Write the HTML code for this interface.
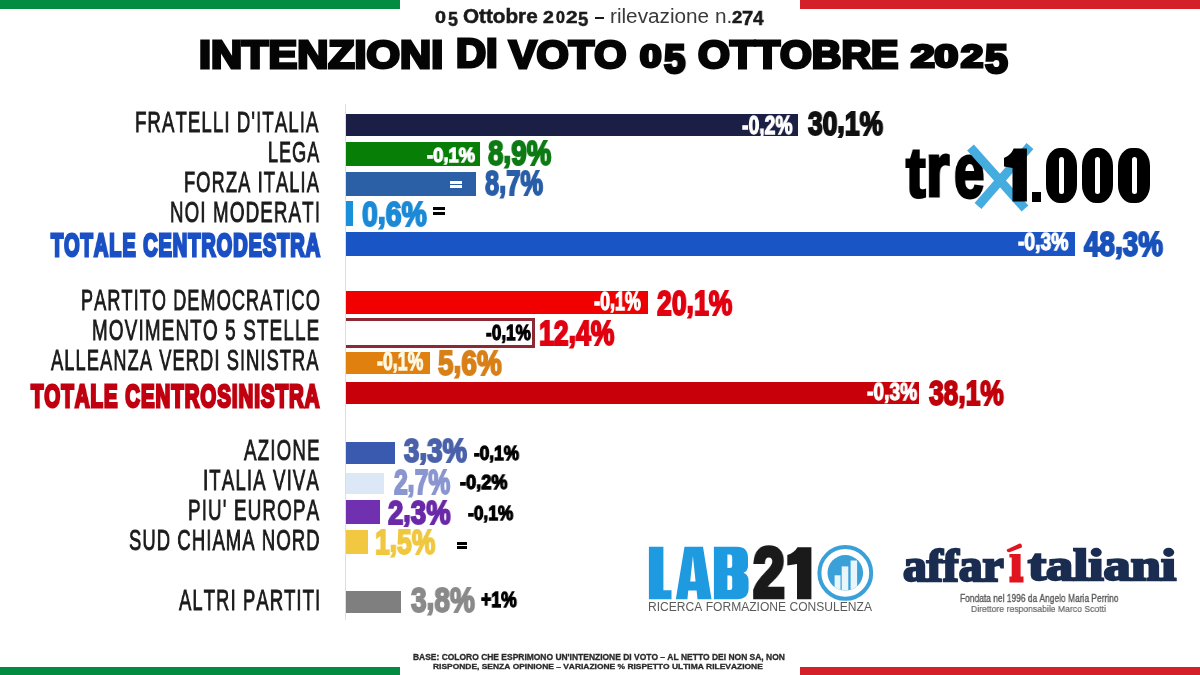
<!DOCTYPE html>
<html><head><meta charset="utf-8"><title>Intenzioni di voto</title>
<style>
html,body{margin:0;padding:0;background:#fff;}
body{width:1200px;height:675px;position:relative;overflow:hidden;font-family:"Liberation Sans",sans-serif;}
.t{position:absolute;white-space:nowrap;line-height:1;font-kerning:none;transform-origin:0 0;will-change:transform;}
.b{position:absolute;}
</style></head><body>
<div class="b" style="left:0px;top:0px;width:400.00px;height:9.00px;background:#048b42;"></div>
<div class="b" style="left:800px;top:0px;width:400.00px;height:9.00px;background:#d42029;"></div>
<div class="b" style="left:0px;top:667px;width:400.00px;height:8.00px;background:#048b42;"></div>
<div class="b" style="left:800px;top:667px;width:400.00px;height:8.00px;background:#d42029;"></div>
<div class="t" style="left:434.72px;top:9.13px;font-family:'Liberation Sans',sans-serif;font-weight:700;font-size:16.33px;color:#1a1a1a;transform:scaleX(1.2100);-webkit-text-stroke:0.5px #1a1a1a;">0</div>
<div class="t" style="left:447.77px;top:8.74px;font-family:'Liberation Sans',sans-serif;font-weight:700;font-size:20.20px;color:#1a1a1a;transform:scaleX(0.8813);-webkit-text-stroke:0.5px #1a1a1a;">5</div>
<div class="t" style="left:462.71px;top:7.04px;font-family:'Liberation Sans',sans-serif;font-weight:700;font-size:19.73px;color:#1a1a1a;transform:scaleX(1.0487);-webkit-text-stroke:0.5px #1a1a1a;">Ottobre</div>
<div class="t" style="left:542.73px;top:9.65px;font-family:'Liberation Sans',sans-serif;font-weight:700;font-size:15.83px;color:#1a1a1a;transform:scaleX(1.2317);-webkit-text-stroke:0.5px #1a1a1a;">2</div>
<div class="t" style="left:555.87px;top:9.65px;font-family:'Liberation Sans',sans-serif;font-weight:700;font-size:15.83px;color:#1a1a1a;transform:scaleX(1.0154);-webkit-text-stroke:0.5px #1a1a1a;">0</div>
<div class="t" style="left:565.86px;top:9.65px;font-family:'Liberation Sans',sans-serif;font-weight:700;font-size:15.83px;color:#1a1a1a;transform:scaleX(1.3117);-webkit-text-stroke:0.5px #1a1a1a;">2</div>
<div class="t" style="left:578.41px;top:8.81px;font-family:'Liberation Sans',sans-serif;font-weight:700;font-size:20.13px;color:#1a1a1a;transform:scaleX(0.9176);-webkit-text-stroke:0.5px #1a1a1a;">5</div>
<div class="t" style="left:731.65px;top:9.66px;font-family:'Liberation Sans',sans-serif;font-weight:700;font-size:15.75px;color:#1a1a1a;transform:scaleX(1.1751);-webkit-text-stroke:0.5px #1a1a1a;">2</div>
<div class="t" style="left:741.64px;top:8.89px;font-family:'Liberation Sans',sans-serif;font-weight:700;font-size:19.62px;color:#1a1a1a;transform:scaleX(1.0301);-webkit-text-stroke:0.5px #1a1a1a;">7</div>
<div class="t" style="left:753.45px;top:8.64px;font-family:'Liberation Sans',sans-serif;font-weight:700;font-size:19.62px;color:#1a1a1a;transform:scaleX(0.9763);-webkit-text-stroke:0.5px #1a1a1a;">4</div>
<div class="b" style="left:595px;top:17.3px;width:9.40px;height:2.20px;background:#1a1a1a;"></div>
<div class="t" style="left:609.62px;top:5.69px;font-family:'Liberation Sans',sans-serif;font-weight:400;font-size:20.56px;color:#3a3a3a;transform:scaleX(1.0092);">rilevazione n.</div>
<div class="t" style="left:198.76px;top:34.65px;font-family:'Liberation Sans',sans-serif;font-weight:700;font-size:39.38px;color:#050505;transform:scaleX(1.0941);-webkit-text-stroke:3.0px #050505;">INTENZIONI</div>
<div class="t" style="left:456.28px;top:34.16px;font-family:'Liberation Sans',sans-serif;font-weight:700;font-size:39.97px;color:#050505;transform:scaleX(1.0419);-webkit-text-stroke:3.0px #050505;">DI</div>
<div class="t" style="left:508.79px;top:34.65px;font-family:'Liberation Sans',sans-serif;font-weight:700;font-size:39.38px;color:#050505;transform:scaleX(1.0517);-webkit-text-stroke:3.0px #050505;">VOTO</div>
<div class="t" style="left:640.35px;top:41.93px;font-family:'Liberation Sans',sans-serif;font-weight:700;font-size:30.79px;color:#050505;transform:scaleX(1.2469);-webkit-text-stroke:3.0px #050505;">0</div>
<div class="t" style="left:664.26px;top:40.16px;font-family:'Liberation Sans',sans-serif;font-weight:700;font-size:39.97px;color:#050505;transform:scaleX(0.9612);-webkit-text-stroke:3.0px #050505;">5</div>
<div class="t" style="left:697.88px;top:34.65px;font-family:'Liberation Sans',sans-serif;font-weight:700;font-size:39.38px;color:#050505;transform:scaleX(1.0411);-webkit-text-stroke:3.0px #050505;">OTTOBRE</div>
<div class="t" style="left:910.59px;top:41.93px;font-family:'Liberation Sans',sans-serif;font-weight:700;font-size:30.79px;color:#050505;transform:scaleX(1.3746);-webkit-text-stroke:3.0px #050505;">20</div>
<div class="t" style="left:960.56px;top:41.93px;font-family:'Liberation Sans',sans-serif;font-weight:700;font-size:30.79px;color:#050505;transform:scaleX(1.2904);-webkit-text-stroke:3.0px #050505;">2</div>
<div class="t" style="left:985.28px;top:40.16px;font-family:'Liberation Sans',sans-serif;font-weight:700;font-size:39.97px;color:#050505;transform:scaleX(1.0267);-webkit-text-stroke:3.0px #050505;">5</div>
<div class="b" style="left:345px;top:104px;width:1.00px;height:516.00px;background:#dedede;"></div>
<div class="t" style="left:135.36px;top:107.81px;font-family:'Liberation Sans',sans-serif;font-weight:400;font-size:29.22px;color:#1c1c1c;transform:scaleX(0.6356);letter-spacing:1.75px;-webkit-text-stroke:0.9px #1c1c1c;">FRATELLI D&#x27;ITALIA</div>
<div class="t" style="left:267.60px;top:137.81px;font-family:'Liberation Sans',sans-serif;font-weight:400;font-size:29.22px;color:#1c1c1c;transform:scaleX(0.6148);letter-spacing:1.75px;-webkit-text-stroke:0.9px #1c1c1c;">LEGA</div>
<div class="t" style="left:183.78px;top:168.31px;font-family:'Liberation Sans',sans-serif;font-weight:400;font-size:29.22px;color:#1c1c1c;transform:scaleX(0.6257);letter-spacing:1.75px;-webkit-text-stroke:0.9px #1c1c1c;">FORZA ITALIA</div>
<div class="t" style="left:170.45px;top:197.81px;font-family:'Liberation Sans',sans-serif;font-weight:400;font-size:29.22px;color:#1c1c1c;transform:scaleX(0.6423);letter-spacing:1.75px;-webkit-text-stroke:0.9px #1c1c1c;">NOI MODERATI</div>
<div class="t" style="left:80.79px;top:285.81px;font-family:'Liberation Sans',sans-serif;font-weight:400;font-size:29.22px;color:#1c1c1c;transform:scaleX(0.6196);letter-spacing:1.75px;-webkit-text-stroke:0.9px #1c1c1c;">PARTITO DEMOCRATICO</div>
<div class="t" style="left:92.34px;top:315.81px;font-family:'Liberation Sans',sans-serif;font-weight:400;font-size:29.22px;color:#1c1c1c;transform:scaleX(0.6468);letter-spacing:1.75px;-webkit-text-stroke:0.9px #1c1c1c;">MOVIMENTO 5 STELLE</div>
<div class="t" style="left:51.25px;top:345.51px;font-family:'Liberation Sans',sans-serif;font-weight:400;font-size:29.22px;color:#1c1c1c;transform:scaleX(0.6247);letter-spacing:1.75px;-webkit-text-stroke:0.9px #1c1c1c;">ALLEANZA VERDI SINISTRA</div>
<div class="t" style="left:243.95px;top:436.01px;font-family:'Liberation Sans',sans-serif;font-weight:400;font-size:29.22px;color:#1c1c1c;transform:scaleX(0.6430);letter-spacing:1.75px;-webkit-text-stroke:0.9px #1c1c1c;">AZIONE</div>
<div class="t" style="left:202.87px;top:465.51px;font-family:'Liberation Sans',sans-serif;font-weight:400;font-size:29.22px;color:#1c1c1c;transform:scaleX(0.6384);letter-spacing:1.75px;-webkit-text-stroke:0.9px #1c1c1c;">ITALIA VIVA</div>
<div class="t" style="left:187.54px;top:496.31px;font-family:'Liberation Sans',sans-serif;font-weight:400;font-size:29.22px;color:#1c1c1c;transform:scaleX(0.6453);letter-spacing:1.75px;-webkit-text-stroke:0.9px #1c1c1c;">PIU&#x27; EUROPA</div>
<div class="t" style="left:129.15px;top:525.81px;font-family:'Liberation Sans',sans-serif;font-weight:400;font-size:29.22px;color:#1c1c1c;transform:scaleX(0.6304);letter-spacing:1.75px;-webkit-text-stroke:0.9px #1c1c1c;">SUD CHIAMA NORD</div>
<div class="t" style="left:179.25px;top:586.31px;font-family:'Liberation Sans',sans-serif;font-weight:400;font-size:29.22px;color:#1c1c1c;transform:scaleX(0.6304);letter-spacing:1.75px;-webkit-text-stroke:0.9px #1c1c1c;">ALTRI PARTITI</div>
<div class="t" style="left:50.68px;top:230.51px;font-family:'Liberation Sans',sans-serif;font-weight:700;font-size:30.81px;color:#1a50c4;transform:scaleX(0.6467);letter-spacing:1.54px;-webkit-text-stroke:2.8px #1a50c4;">TOTALE CENTRODESTRA</div>
<div class="t" style="left:30.70px;top:382.01px;font-family:'Liberation Sans',sans-serif;font-weight:700;font-size:30.81px;color:#c00010;transform:scaleX(0.6612);letter-spacing:1.54px;-webkit-text-stroke:2.8px #c00010;">TOTALE CENTROSINISTRA</div>
<div class="b" style="left:346px;top:113.5px;width:452.00px;height:22.80px;background:#1c1f45;"></div>
<div class="b" style="left:346px;top:141.8px;width:133.60px;height:24.50px;background:#077f07;"></div>
<div class="b" style="left:346px;top:172.2px;width:130.00px;height:23.60px;background:#2b5fa6;"></div>
<div class="b" style="left:346px;top:201px;width:7.00px;height:25.00px;background:#1a90d8;"></div>
<div class="b" style="left:346px;top:232px;width:728.70px;height:24.00px;background:#1a55c5;"></div>
<div class="b" style="left:346px;top:291.3px;width:302.00px;height:22.90px;background:#f00000;"></div>
<div class="b" style="left:346px;top:318px;width:186px;height:24px;border:3px solid #8b2a35;border-left:none;background:#fff"></div>
<div class="b" style="left:346px;top:351.5px;width:84.00px;height:22.90px;background:#e0800f;"></div>
<div class="b" style="left:346px;top:382px;width:573.40px;height:22.20px;background:#c8000a;"></div>
<div class="b" style="left:346px;top:442.3px;width:48.60px;height:21.70px;background:#3a5ab0;"></div>
<div class="b" style="left:346px;top:472.7px;width:38.30px;height:21.30px;background:#dde8f7;"></div>
<div class="b" style="left:346px;top:500.3px;width:33.60px;height:23.70px;background:#7030b0;"></div>
<div class="b" style="left:346px;top:530.4px;width:21.70px;height:23.70px;background:#f2c842;"></div>
<div class="b" style="left:346px;top:590.6px;width:55.00px;height:22.10px;background:#7f7f7f;"></div>
<div class="t" style="left:808.19px;top:107.05px;font-family:'Liberation Sans',sans-serif;font-weight:700;font-size:33.37px;color:#111111;transform:scaleX(0.7929);-webkit-text-stroke:2.0px #111111;">30<span style="position:relative;top:-0.08em">,</span>1%</div>
<div class="t" style="left:487.93px;top:136.20px;font-family:'Liberation Sans',sans-serif;font-weight:700;font-size:34.37px;color:#0e7a14;transform:scaleX(0.8079);-webkit-text-stroke:2.0px #0e7a14;">8<span style="position:relative;top:-0.08em">,</span>9%</div>
<div class="t" style="left:485.23px;top:166.20px;font-family:'Liberation Sans',sans-serif;font-weight:700;font-size:34.37px;color:#2a5ea8;transform:scaleX(0.7403);-webkit-text-stroke:2.0px #2a5ea8;">8<span style="position:relative;top:-0.08em">,</span>7%</div>
<div class="t" style="left:361.69px;top:195.79px;font-family:'Liberation Sans',sans-serif;font-weight:700;font-size:35.09px;color:#1c8ad6;transform:scaleX(0.8097);-webkit-text-stroke:2.0px #1c8ad6;">0<span style="position:relative;top:-0.08em">,</span>6%</div>
<div class="t" style="left:1084.38px;top:227.09px;font-family:'Liberation Sans',sans-serif;font-weight:700;font-size:34.73px;color:#1a52bb;transform:scaleX(0.8028);-webkit-text-stroke:2.0px #1a52bb;">48<span style="position:relative;top:-0.08em">,</span>3%</div>
<div class="t" style="left:656.53px;top:285.05px;font-family:'Liberation Sans',sans-serif;font-weight:700;font-size:35.37px;color:#e00010;transform:scaleX(0.7519);-webkit-text-stroke:2.0px #e00010;">20<span style="position:relative;top:-0.08em">,</span>1%</div>
<div class="t" style="left:539.10px;top:315.90px;font-family:'Liberation Sans',sans-serif;font-weight:700;font-size:34.37px;color:#e00010;transform:scaleX(0.7750);-webkit-text-stroke:2.0px #e00010;">12<span style="position:relative;top:-0.08em">,</span>4%</div>
<div class="t" style="left:438.19px;top:346.09px;font-family:'Liberation Sans',sans-serif;font-weight:700;font-size:34.73px;color:#d88018;transform:scaleX(0.8052);-webkit-text-stroke:2.0px #d88018;">5<span style="position:relative;top:-0.08em">,</span>6%</div>
<div class="t" style="left:928.76px;top:375.90px;font-family:'Liberation Sans',sans-serif;font-weight:700;font-size:34.37px;color:#c0000a;transform:scaleX(0.7682);-webkit-text-stroke:2.0px #c0000a;">38<span style="position:relative;top:-0.08em">,</span>1%</div>
<div class="t" style="left:403.51px;top:435.11px;font-family:'Liberation Sans',sans-serif;font-weight:700;font-size:32.94px;color:#4a62aa;transform:scaleX(0.8402);-webkit-text-stroke:2.0px #4a62aa;">3<span style="position:relative;top:-0.08em">,</span>3%</div>
<div class="t" style="left:394.46px;top:464.90px;font-family:'Liberation Sans',sans-serif;font-weight:700;font-size:34.37px;color:#8a96d0;transform:scaleX(0.7182);-webkit-text-stroke:2.0px #8a96d0;">2<span style="position:relative;top:-0.08em">,</span>7%</div>
<div class="t" style="left:388.17px;top:495.55px;font-family:'Liberation Sans',sans-serif;font-weight:700;font-size:33.37px;color:#6a2aa8;transform:scaleX(0.8221);-webkit-text-stroke:2.0px #6a2aa8;">2<span style="position:relative;top:-0.08em">,</span>3%</div>
<div class="t" style="left:374.70px;top:524.80px;font-family:'Liberation Sans',sans-serif;font-weight:700;font-size:34.49px;color:#f0c840;transform:scaleX(0.7661);-webkit-text-stroke:2.0px #f0c840;">1<span style="position:relative;top:-0.08em">,</span>5%</div>
<div class="t" style="left:410.64px;top:583.11px;font-family:'Liberation Sans',sans-serif;font-weight:700;font-size:35.66px;color:#8a8a8a;transform:scaleX(0.7863);-webkit-text-stroke:2.0px #8a8a8a;">3<span style="position:relative;top:-0.08em">,</span>8%</div>
<div class="t" style="left:742.34px;top:112.51px;font-family:'Liberation Sans',sans-serif;font-weight:700;font-size:25.21px;color:#ffffff;transform:scaleX(0.7664);-webkit-text-stroke:1.3px #ffffff;text-shadow:0 0 1.5px rgba(0,0,0,0.55);">-0<span style="position:relative;top:-0.06em">,</span>2%</div>
<div class="t" style="left:427.15px;top:143.82px;font-family:'Liberation Sans',sans-serif;font-weight:700;font-size:21.05px;color:#ffffff;transform:scaleX(0.8740);-webkit-text-stroke:1.3px #ffffff;text-shadow:0 0 1.5px rgba(0,0,0,0.55);">-0<span style="position:relative;top:-0.06em">,</span>1%</div>
<div class="t" style="left:1017.96px;top:230.04px;font-family:'Liberation Sans',sans-serif;font-weight:700;font-size:24.35px;color:#ffffff;transform:scaleX(0.7914);-webkit-text-stroke:1.3px #ffffff;text-shadow:0 0 1.5px rgba(0,0,0,0.55);">-0<span style="position:relative;top:-0.06em">,</span>3%</div>
<div class="t" style="left:594.06px;top:289.20px;font-family:'Liberation Sans',sans-serif;font-weight:700;font-size:25.28px;color:#ffffff;transform:scaleX(0.7110);-webkit-text-stroke:1.3px #ffffff;text-shadow:0 0 1.5px rgba(0,0,0,0.55);">-0<span style="position:relative;top:-0.06em">,</span>1%</div>
<div class="t" style="left:485.82px;top:321.25px;font-family:'Liberation Sans',sans-serif;font-weight:700;font-size:22.91px;color:#000000;transform:scaleX(0.7492);-webkit-text-stroke:1.3px #000000;">-0<span style="position:relative;top:-0.06em">,</span>1%</div>
<div class="t" style="left:376.76px;top:349.39px;font-family:'Liberation Sans',sans-serif;font-weight:700;font-size:25.35px;color:#fff8e0;transform:scaleX(0.7000);-webkit-text-stroke:1.3px #fff8e0;text-shadow:0 0 1.5px rgba(0,0,0,0.55);">-0<span style="position:relative;top:-0.06em">,</span>1%</div>
<div class="t" style="left:867.35px;top:380.37px;font-family:'Liberation Sans',sans-serif;font-weight:700;font-size:24.78px;color:#ffffff;transform:scaleX(0.7748);-webkit-text-stroke:1.3px #ffffff;text-shadow:0 0 1.5px rgba(0,0,0,0.55);">-0<span style="position:relative;top:-0.06em">,</span>3%</div>
<div class="t" style="left:474.49px;top:443.52px;font-family:'Liberation Sans',sans-serif;font-weight:700;font-size:19.76px;color:#000000;transform:scaleX(0.8734);-webkit-text-stroke:1.3px #000000;">-0<span style="position:relative;top:-0.06em">,</span>1%</div>
<div class="t" style="left:460.19px;top:472.74px;font-family:'Liberation Sans',sans-serif;font-weight:700;font-size:19.62px;color:#000000;transform:scaleX(0.9264);-webkit-text-stroke:1.3px #000000;">-0<span style="position:relative;top:-0.06em">,</span>2%</div>
<div class="t" style="left:468.06px;top:503.35px;font-family:'Liberation Sans',sans-serif;font-weight:700;font-size:20.91px;color:#000000;transform:scaleX(0.8285);-webkit-text-stroke:1.3px #000000;">-0<span style="position:relative;top:-0.06em">,</span>1%</div>
<div class="t" style="left:481.48px;top:588.80px;font-family:'Liberation Sans',sans-serif;font-weight:700;font-size:21.91px;color:#000000;transform:scaleX(0.8042);-webkit-text-stroke:1.3px #000000;">+1%</div>
<div class="b" style="left:450px;top:180.5px;width:12.00px;height:3.00px;background:#ffffff;"></div>
<div class="b" style="left:450px;top:185.3px;width:12.00px;height:3.00px;background:#ffffff;"></div>
<div class="b" style="left:433px;top:207px;width:12.00px;height:3.00px;background:#000000;"></div>
<div class="b" style="left:433px;top:212px;width:12.00px;height:3.00px;background:#000000;"></div>
<div class="b" style="left:457px;top:542px;width:10.00px;height:2.80px;background:#000000;"></div>
<div class="b" style="left:457px;top:546.2px;width:10.00px;height:2.80px;background:#000000;"></div>
<div class="t" style="left:906.33px;top:137.70px;font-family:'Liberation Sans',sans-serif;font-weight:700;font-size:70.51px;color:#000;transform:scaleX(0.8279);-webkit-text-stroke:3px #000;">t</div>
<div class="t" style="left:926.42px;top:133.42px;font-family:'Liberation Sans',sans-serif;font-weight:700;font-size:75.57px;color:#000;transform:scaleX(0.7990);-webkit-text-stroke:3px #000;">r</div>
<div class="t" style="left:953.73px;top:133.01px;font-family:'Liberation Sans',sans-serif;font-weight:700;font-size:76.75px;color:#000;transform:scaleX(0.7138);-webkit-text-stroke:3px #000;">e</div>
<svg style="position:absolute;left:0;top:0" width="1200" height="675" viewBox="0 0 1200 675">
<path d="M970.5 147.5 L1025 208.5" stroke="#45ace0" stroke-width="9" fill="none"/>
<path d="M1030 146 L978 206" stroke="#45ace0" stroke-width="9" fill="none"/>
<path d="M1013.7 148.4 L1026.9 148.4 L1026.9 201.6 L1012.5 201.6 L1012.5 168 L1004 166.5 L1004 158 Q1011 155 1013.7 148.4 Z" fill="#000"/>
</svg>
<div class="b" style="left:1031.7px;top:192px;width:9.40px;height:9.70px;background:#000;"></div>
<div class="b" style="left:1045.6px;top:148px;width:31.1px;height:55px;background:#000;border-radius:14px/18px"></div>
<div class="b" style="left:1058.6px;top:157px;width:5.2px;height:37px;background:#fff;border-radius:3px"></div>
<div class="b" style="left:1081.7px;top:148px;width:31.6px;height:55px;background:#000;border-radius:14px/18px"></div>
<div class="b" style="left:1094.9px;top:157px;width:5.2px;height:37px;background:#fff;border-radius:3px"></div>
<div class="b" style="left:1118.3px;top:148px;width:31.7px;height:55px;background:#000;border-radius:14px/18px"></div>
<div class="b" style="left:1131.6px;top:157px;width:5.2px;height:37px;background:#fff;border-radius:3px"></div>
<svg style="position:absolute;left:0;top:0" width="1200" height="675" viewBox="0 0 1200 675">
<path fill="#1e9be0" d="M648.9 546.7 H663.4 V590.2 H671.5 V599.2 H648.9 Z"/>
<path fill="#1e9be0" fill-rule="evenodd" d="M684.5 546.7 H703 L711.5 599.2 H697.5 L696.6 590.5 H688.3 L687.4 599.2 H675.8 Z M690.2 581.6 L692.9 556 L695.6 581.6 Z"/>
<path fill="#1e9be0" fill-rule="evenodd" d="M713.9 546.7 H737 Q748 546.7 748 558 V566 Q748 571 743.5 572.8 Q748.6 574.5 748.6 581 V588 Q748.6 599.2 737 599.2 H713.9 Z M727.4 554.5 H730 Q732.2 554.5 732.2 557 V565.5 Q732.2 568 730 568 H727.4 Z M727.4 575.6 H730 Q732.2 575.6 732.2 578 V587.5 Q732.2 590 730 590 H727.4 Z"/>
<path fill="#1a1a1a" d="M811.4 547.2 V599.2 H797 V564 L787.3 565.5 V555 Q794.5 552.5 797.5 547.2 Z"/>
</svg>
<div class="t" style="left:752.55px;top:537.65px;font-family:'Liberation Sans',sans-serif;font-weight:700;font-size:70.03px;color:#1a1a1a;transform:scaleX(0.8190);-webkit-text-stroke:4.5px #1a1a1a;">2</div>
<svg style="position:absolute;left:815px;top:543px" width="60" height="60" viewBox="0 0 60 60">
<circle cx="30.3" cy="29.9" r="25.9" fill="none" stroke="#3aa0d8" stroke-width="4"/>
<circle cx="30.3" cy="29.9" r="17.8" fill="#3aa0d8"/>
<clipPath id="cc"><circle cx="30.3" cy="29.9" r="17.8"/></clipPath>
<g clip-path="url(#cc)" fill="#e8f6fc">
<rect x="19.6" y="32.3" width="5.9" height="20"/>
<rect x="26.7" y="23.4" width="6.6" height="30"/>
<rect x="35.6" y="17.5" width="6.5" height="36"/>
</g></svg>
<div class="t" style="left:647.81px;top:601.71px;font-family:'Liberation Sans',sans-serif;font-weight:400;font-size:11.92px;color:#5a5a5a;transform:scaleX(1.0137);">RICERCA FORMAZIONE CONSULENZA</div>
<div class="t" style="left:902.82px;top:543.24px;font-family:'Liberation Serif',sans-serif;font-weight:700;font-size:45.45px;color:#1a2c50;transform:scaleX(1.0501);-webkit-text-stroke:2.4px #1a2c50;">affar</div>
<svg style="position:absolute;left:0;top:0" width="1200" height="675" viewBox="0 0 1200 675">
<path fill="#e0141e" d="M1006.9 549.5 L1019.5 543.6 Q1022.3 543.4 1021.8 547.5 L1009.5 552.2 Q1006.4 552.5 1006.9 549.5 Z"/>
<path fill="#e0141e" d="M1009.4 553.9 H1020.6 V576.5 H1023.5 V582.4 H1009.4 V576.5 H1011.7 V557.5 H1009.4 Z"/>
</svg>
<div class="t" style="left:1027.60px;top:544.25px;font-family:'Liberation Serif',sans-serif;font-weight:700;font-size:44.25px;color:#1a2c50;transform:scaleX(1.2283);-webkit-text-stroke:2.4px #1a2c50;">taliani</div>
<div class="t" style="left:960.45px;top:593.53px;font-family:'Liberation Sans',sans-serif;font-weight:400;font-size:10.39px;color:#5a5a5a;transform:scaleX(0.8106);-webkit-text-stroke:0.35px #5a5a5a;">Fondata nel 1996 da Angelo Maria Perrino</div>
<div class="t" style="left:971.38px;top:603.53px;font-family:'Liberation Sans',sans-serif;font-weight:400;font-size:9.88px;color:#666;transform:scaleX(0.8753);-webkit-text-stroke:0.2px #666;">Direttore responsabile Marco Scotti</div>
<div class="t" style="left:412.89px;top:652.84px;font-family:'Liberation Sans',sans-serif;font-weight:700;font-size:8.29px;color:#2a2a2a;transform:scaleX(1.0214);-webkit-text-stroke:0.3px #2a2a2a;">BASE: COLORO CHE ESPRIMONO UN&#x27;INTENZIONE DI VOTO – AL NETTO DEI NON SA, NON</div>
<div class="t" style="left:432.90px;top:662.95px;font-family:'Liberation Sans',sans-serif;font-weight:700;font-size:7.56px;color:#2a2a2a;transform:scaleX(1.1171);-webkit-text-stroke:0.3px #2a2a2a;">RISPONDE, SENZA OPINIONE – VARIAZIONE % RISPETTO ULTIMA RILEVAZIONE</div>
</body></html>
